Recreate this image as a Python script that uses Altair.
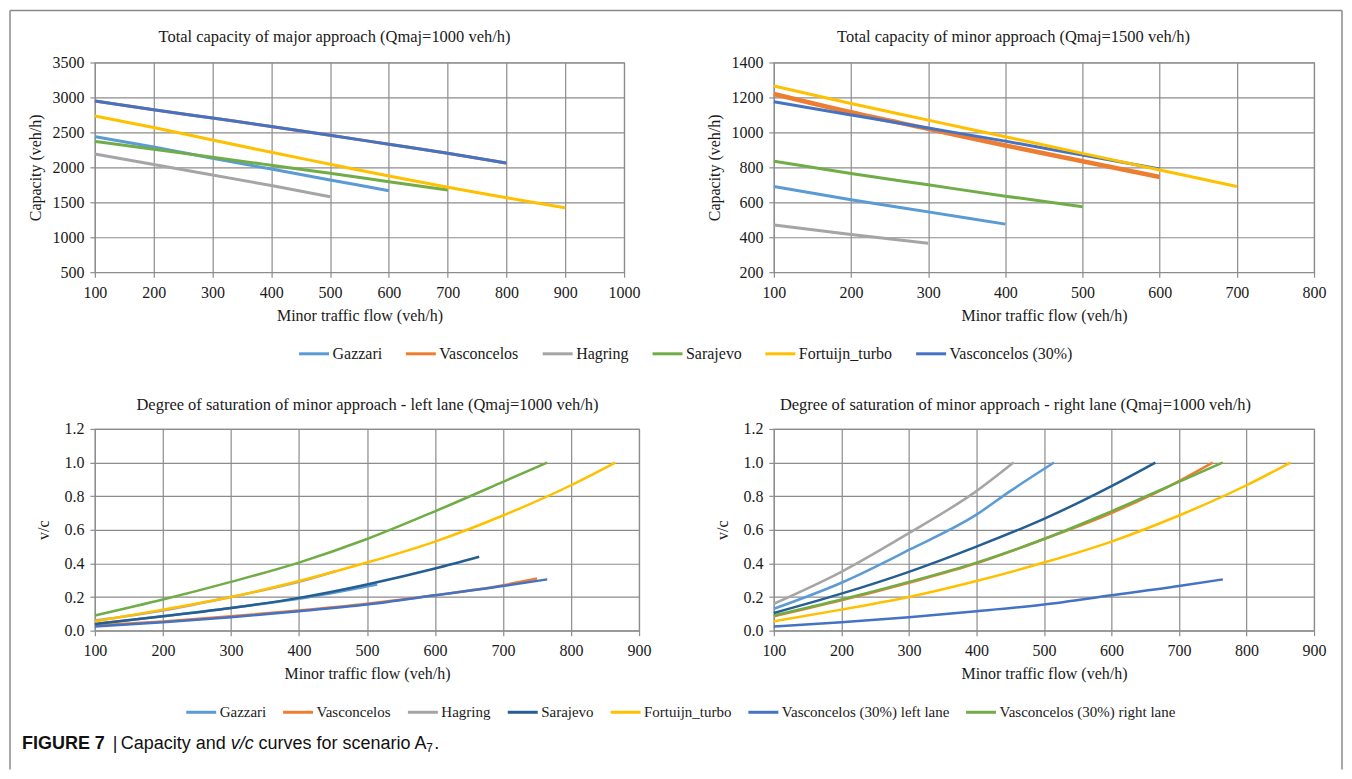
import altair as alt
import pandas as pd

SERIF = "Liberation Serif"
SANS = "Liberation Sans"
GRID = "#8c8c8c"
TXT = "#1a1a1a"

# ---------------- data ----------------
# Panel 1: Total capacity of major approach (Qmaj=1000 veh/h)
p1_gazzari_x = [100, 200, 300, 400, 500, 600]
p1_gazzari_y = [2440, 2290, 2130, 1975, 1820, 1665]
p1_vasc_x = [100, 200, 300, 400, 500, 600, 700, 800]
p1_vasc_y = [2950, 2825, 2705, 2585, 2460, 2330, 2200, 2060]
p1_hagring_x = [100, 200, 300, 400, 500]
p1_hagring_y = [2190, 2040, 1890, 1740, 1580]
p1_sarajevo_x = [100, 200, 300, 400, 500, 600, 700]
p1_sarajevo_y = [2370, 2260, 2145, 2030, 1915, 1795, 1675]
p1_fortuijn_x = [100, 200, 300, 400, 500, 600, 700, 800, 900]
p1_fortuijn_y = [2735, 2570, 2390, 2215, 2045, 1875, 1715, 1565, 1420]
p1_vasc30_x = [100, 200, 300, 400, 500, 600, 700, 800]
p1_vasc30_y = [2950, 2825, 2705, 2585, 2460, 2330, 2200, 2060]

# Panel 2: Total capacity of minor approach (Qmaj=1500 veh/h)
p2_gazzari_x = [100, 200, 300, 400]
p2_gazzari_y = [690, 615, 545, 475]
p2_vasc_x = [100, 200, 300, 400, 500, 600]
p2_vasc_y = [1220, 1115, 1020, 925, 835, 745]
p2_hagring_x = [100, 200, 300]
p2_hagring_y = [470, 415, 365]
p2_sarajevo_x = [100, 200, 300, 400, 500]
p2_sarajevo_y = [835, 765, 700, 635, 575]
p2_fortuijn_x = [100, 200, 300, 400, 500, 600, 700]
p2_fortuijn_y = [1265, 1165, 1070, 975, 880, 785, 690]
p2_vasc30_x = [100, 200, 300, 400, 500, 600]
p2_vasc30_y = [1175, 1100, 1025, 950, 870, 790]

# Panel 3: Degree of saturation - left lane
p3_gazzari_x = [100, 200, 300, 400, 515]
p3_gazzari_y = [0.04, 0.085, 0.135, 0.19, 0.275]
p3_vasc_x = [100, 200, 300, 400, 500, 600, 700, 750]
p3_vasc_y = [0.03, 0.055, 0.085, 0.12, 0.16, 0.21, 0.27, 0.31]
p3_hagring_x = [100, 200, 300, 400, 455]
p3_hagring_y = [0.06, 0.12, 0.2, 0.29, 0.355]
p3_sarajevo_x = [100, 200, 300, 400, 500, 600, 665]
p3_sarajevo_y = [0.04, 0.085, 0.135, 0.195, 0.275, 0.37, 0.44]
p3_fortuijn_x = [100, 200, 300, 400, 500, 600, 700, 800, 865]
p3_fortuijn_y = [0.055, 0.125, 0.2, 0.295, 0.405, 0.53, 0.685, 0.865, 1.0]
p3_left_x = [100, 200, 300, 400, 500, 600, 700, 765]
p3_left_y = [0.025, 0.05, 0.08, 0.115, 0.155, 0.21, 0.265, 0.305]
p3_right_x = [100, 200, 300, 400, 500, 600, 700, 765]
p3_right_y = [0.09, 0.185, 0.29, 0.405, 0.545, 0.71, 0.885, 1.0]

# Panel 4: Degree of saturation - right lane
p4_gazzari_x = [100, 200, 300, 400, 450, 515]
p4_gazzari_y = [0.13, 0.285, 0.48, 0.69, 0.83, 1.0]
p4_vasc_x = [100, 200, 300, 400, 500, 600, 700, 750]
p4_vasc_y = [0.085, 0.18, 0.285, 0.4, 0.545, 0.7, 0.89, 1.0]
p4_hagring_x = [100, 200, 300, 400, 455]
p4_hagring_y = [0.16, 0.35, 0.58, 0.83, 1.0]
p4_sarajevo_x = [100, 200, 300, 400, 500, 600, 665]
p4_sarajevo_y = [0.105, 0.22, 0.35, 0.5, 0.665, 0.86, 1.0]
p4_fortuijn_x = [100, 200, 300, 400, 500, 600, 700, 800, 865]
p4_fortuijn_y = [0.055, 0.125, 0.2, 0.295, 0.405, 0.53, 0.685, 0.865, 1.0]
p4_left_x = [100, 200, 300, 400, 500, 600, 700, 765]
p4_left_y = [0.025, 0.05, 0.08, 0.115, 0.155, 0.21, 0.265, 0.305]
p4_right_x = [100, 200, 300, 400, 500, 600, 700, 765]
p4_right_y = [0.09, 0.185, 0.29, 0.405, 0.545, 0.71, 0.885, 1.0]

top_series = ["Gazzari", "Vasconcelos", "Hagring", "Sarajevo", "Fortuijn_turbo", "Vasconcelos (30%)"]
top_colors = ["#5B9BD5", "#ED7D31", "#A5A5A5", "#70AD47", "#FFC000", "#4472C4"]
bot_series = ["Gazzari", "Vasconcelos", "Hagring", "Sarajevo", "Fortuijn_turbo",
              "Vasconcelos (30%) left lane", "Vasconcelos (30%) right lane"]
bot_colors = ["#5B9BD5", "#ED7D31", "#A5A5A5", "#255E91", "#FFC000", "#4472C4", "#70AD47"]

x_ticks_1 = [100, 200, 300, 400, 500, 600, 700, 800, 900, 1000]
y_ticks_1 = [500, 1000, 1500, 2000, 2500, 3000, 3500]
x_ticks_2 = [100, 200, 300, 400, 500, 600, 700, 800]
y_ticks_2 = [200, 400, 600, 800, 1000, 1200, 1400]
x_ticks_3 = [100, 200, 300, 400, 500, 600, 700, 800, 900]
y_ticks_3 = [0.0, 0.2, 0.4, 0.6, 0.8, 1.0, 1.2]

one = pd.DataFrame({"k": [0]})


def df(name, xs, ys):
    return pd.DataFrame({"flow": xs, "value": ys, "series": name})


def panel(layers, domain, colors, legend, width, height, xdom, xticks, ydom, yticks,
          yfmt, title, title_x, title_y, ytitle, ytitlepad, extra=()):
    charts = []
    for name, xs, ys, sw in layers:
        charts.append(
            alt.Chart(df(name, xs, ys)).mark_line(strokeWidth=sw, interpolate="monotone").encode(
                x=alt.X("flow:Q", scale=alt.Scale(domain=xdom, nice=False, zero=False),
                        axis=alt.Axis(values=xticks, title="Minor traffic flow (veh/h)",
                                      format="d")),
                y=alt.Y("value:Q", scale=alt.Scale(domain=ydom, nice=False, zero=False),
                        axis=alt.Axis(values=yticks, title=ytitle, format=yfmt,
                                      titlePadding=ytitlepad)),
                color=alt.Color("series:N", scale=alt.Scale(domain=domain, range=colors),
                                legend=legend),
            )
        )
    # panel title, drawn as a text mark above the plot
    charts.append(
        alt.Chart(one).mark_text(align="center", baseline="middle", font=SERIF, fontSize=16.5,
                                 color=TXT).encode(
            x=alt.value(title_x), y=alt.value(title_y), text=alt.value(title))
    )
    charts.extend(extra)
    return alt.layer(*charts).properties(width=width, height=height)


def legend(n, lx, ly, size, pad):
    return alt.Legend(orient="none", legendX=lx, legendY=ly, direction="horizontal",
                      columns=n, title=None, symbolType="stroke", symbolStrokeWidth=3,
                      symbolSize=900, labelFont=SERIF, labelFontSize=size, labelColor=TXT,
                      columnPadding=pad, labelOffset=2, labelLimit=400)


leg_top = legend(6, 203, 275, 16, 17)
leg_bot = legend(7, 90, 267, 15, 10)

FR = "#8a8a8a"
frame = [
    alt.Chart(one).mark_rule(color=FR, strokeWidth=1.5).encode(
        x=alt.value(-85), y=alt.value(-52), y2=alt.value(708)),
    alt.Chart(one).mark_rule(color=FR, strokeWidth=1.5).encode(
        x=alt.value(-85), x2=alt.value(1249), y=alt.value(-52)),
    alt.Chart(one).mark_rule(color=FR, strokeWidth=1.5).encode(
        x=alt.value(1249), y=alt.value(-52), y2=alt.value(708)),
]


def cap(text, x, size=18, weight="normal", style="normal", dy=0):
    return alt.Chart(one).mark_text(align="left", baseline="middle", font=SANS, fontSize=size,
                                    fontWeight=weight, fontStyle=style, color="#111", dy=dy).encode(
        x=alt.value(x), y=alt.value(316), text=alt.value(text))


caption = [
    cap("FIGURE 7", -73, weight="bold"),
    cap("|", 18),
    cap("Capacity and", 26),
    cap("v/c", 136, style="italic"),
    cap("curves for scenario A", 164),
    cap("7", 332, size=12, dy=4),
    cap(".", 340),
]

tl = panel([
    ("Vasconcelos", p1_vasc_x, p1_vasc_y, 3),
    ("Hagring", p1_hagring_x, p1_hagring_y, 3),
    ("Gazzari", p1_gazzari_x, p1_gazzari_y, 3),
    ("Sarajevo", p1_sarajevo_x, p1_sarajevo_y, 3),
    ("Fortuijn_turbo", p1_fortuijn_x, p1_fortuijn_y, 3),
    ("Vasconcelos (30%)", p1_vasc30_x, p1_vasc30_y, 3),
], top_series, top_colors, leg_top, 530, 210, [100, 1000], x_ticks_1, [500, 3500], y_ticks_1,
    "d", "Total capacity of major approach (Qmaj=1000 veh/h)", 240, -26,
    "Capacity  (veh/h)", 8, extra=frame)

tr = panel([
    ("Hagring", p2_hagring_x, p2_hagring_y, 3),
    ("Gazzari", p2_gazzari_x, p2_gazzari_y, 3),
    ("Sarajevo", p2_sarajevo_x, p2_sarajevo_y, 3),
    ("Vasconcelos", p2_vasc_x, p2_vasc_y, 4.5),
    ("Vasconcelos (30%)", p2_vasc30_x, p2_vasc30_y, 3),
    ("Fortuijn_turbo", p2_fortuijn_x, p2_fortuijn_y, 3),
], top_series, top_colors, None, 541, 210, [100, 800], x_ticks_2, [200, 1400], y_ticks_2,
    "d", "Total capacity of minor approach (Qmaj=1500 veh/h)", 240, -26,
    "Capacity  (veh/h)", 8)

bl = panel([
    ("Gazzari", p3_gazzari_x, p3_gazzari_y, 2.5),
    ("Hagring", p3_hagring_x, p3_hagring_y, 2.5),
    ("Vasconcelos", p3_vasc_x, p3_vasc_y, 2.5),
    ("Sarajevo", p3_sarajevo_x, p3_sarajevo_y, 2.5),
    ("Fortuijn_turbo", p3_fortuijn_x, p3_fortuijn_y, 2.5),
    ("Vasconcelos (30%) left lane", p3_left_x, p3_left_y, 2.5),
    ("Vasconcelos (30%) right lane", p3_right_x, p3_right_y, 2.5),
], bot_series, bot_colors, leg_bot, 545, 202, [100, 900], x_ticks_3, [0, 1.2], y_ticks_3,
    ".1f", "Degree of saturation of minor approach - left lane (Qmaj=1000 veh/h)", 273, -24,
    "v/c", 12, extra=caption)

br = panel([
    ("Vasconcelos", p4_vasc_x, p4_vasc_y, 2.5),
    ("Vasconcelos (30%) right lane", p4_right_x, p4_right_y, 2.5),
    ("Hagring", p4_hagring_x, p4_hagring_y, 2.5),
    ("Gazzari", p4_gazzari_x, p4_gazzari_y, 2.5),
    ("Sarajevo", p4_sarajevo_x, p4_sarajevo_y, 2.5),
    ("Fortuijn_turbo", p4_fortuijn_x, p4_fortuijn_y, 2.5),
    ("Vasconcelos (30%) left lane", p4_left_x, p4_left_y, 2.5),
], bot_series, bot_colors, None, 541, 202, [100, 900], x_ticks_3, [0, 1.2], y_ticks_3,
    ".1f", "Degree of saturation of minor approach - right lane (Qmaj=1000 veh/h)", 242, -24,
    "v/c", 12)

chart = alt.concat(
    tl, tr, bl, br, columns=2, spacing={"row": 157, "column": 135}, bounds="flush"
).resolve_scale(
    color="independent"
).properties(
    padding={"left": 0, "top": 0, "right": 0, "bottom": 0}
).configure_axis(
    gridColor=GRID, gridWidth=1.2, domain=False, tickColor=GRID, tickWidth=1.2, tickSize=5,
    labelFont=SERIF, labelFontSize=16, labelColor=TXT, titleFont=SERIF, titleFontSize=16,
    titleFontWeight="normal", titleColor=TXT, labelFlush=False,
).configure_axisX(
    labelPadding=7, titlePadding=7,
).configure_axisY(
    labelPadding=6,
).configure_view(
    stroke=GRID, strokeWidth=1.2,
)

chart.save("out.html", embed_options={"renderer": "svg", "actions": False})
